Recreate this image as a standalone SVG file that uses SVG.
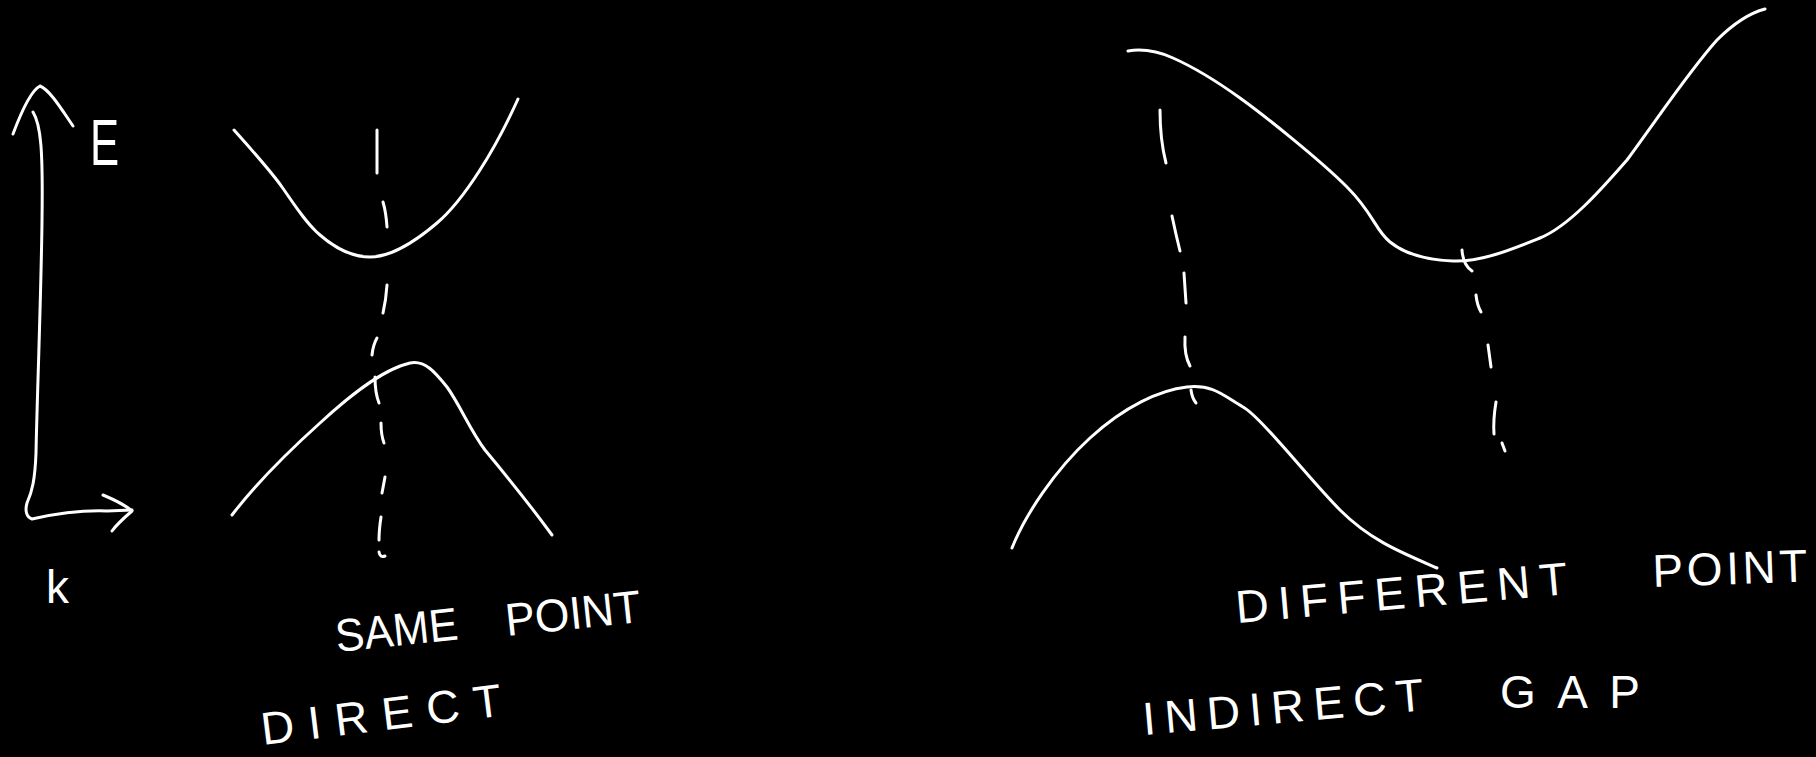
<svg xmlns="http://www.w3.org/2000/svg" width="1816" height="757" viewBox="0 0 1816 757">
<style>
.ln{fill:none;stroke:#ffffff;stroke-width:3;stroke-linecap:round;stroke-linejoin:round}
.tx{fill:#ffffff;font-family:"Liberation Sans",Arial,sans-serif;font-size:46px}
</style>
<rect x="0" y="0" width="1816" height="757" fill="#000000"/>

<g id="axes">
  <path class="ln" d="M13,134 C22,110 32,90 40,86 C50,90 62,110 73,126"/>
  <path class="ln" d="M33,112 C41,125 43,150 42,221 C41,300 37,400 36,453 C35,480 32,492 27,503 C25,510 26,517 32,519 C50,515 80,510 107,511 L132,510"/>
  <path class="ln" d="M103,495 C115,500 125,505 132,511 C125,517 117,524 112,531"/>
  <text class="tx" transform="translate(90,165) scale(0.95,1.42)" font-size="60">E</text>
  <text class="tx" x="46" y="603" font-size="74">k</text>
</g>

<g id="direct-gap">
  <path id="direct-conduction" class="ln" d="M234,130 C250,148 270,170 282,187 S305,222 320,235 S352,257 370,257 S410,246 437,223 S495,150 518,99"/>
  <path id="direct-valence" class="ln" d="M232,515 C255,485 290,450 320,423 C345,400 380,370 410,363 C425,360 435,372 447,387 C460,405 470,430 485,450 C510,480 530,505 552,535"/>
  <text class="tx" x="337" y="652" transform="rotate(-6 337 652)" textLength="123" lengthAdjust="spacingAndGlyphs">SAME</text>
  <text class="tx" x="507" y="636" transform="rotate(-6 507 636)" textLength="136" lengthAdjust="spacingAndGlyphs">POINT</text>
  <text class="tx" x="263" y="745" transform="rotate(-7 263 745)" font-size="48" textLength="242" lengthAdjust="spacing">DIRECT</text>
</g>

<g id="indirect-gap">
  <path id="indirect-conduction" class="ln" d="M1128,51 C1140,49 1155,50 1173,58 S1215,80 1240,98 S1320,160 1347,187 S1375,230 1390,242 S1425,260 1453,261 S1510,250 1540,238 S1605,185 1627,160 C1660,115 1690,70 1717,40 C1735,22 1750,13 1765,9"/>
  <path id="indirect-valence" class="ln" d="M1012,548 C1025,515 1055,470 1090,438 S1160,390 1187,387 S1225,397 1243,407 S1310,480 1340,510 S1400,552 1437,568"/>
  <text class="tx" x="1237" y="623" transform="rotate(-5 1237 623)" textLength="333" lengthAdjust="spacing">DIFFERENT</text>
  <text class="tx" x="1653" y="587" transform="rotate(-2 1653 587)" textLength="155" lengthAdjust="spacing">POINT</text>
  <text class="tx" x="1144" y="735" transform="rotate(-5 1144 735)" textLength="282" lengthAdjust="spacing">INDIRECT</text>
  <text class="tx" x="1500" y="708" textLength="140" lengthAdjust="spacing">GAP</text>
</g>

<g id="connectors">
  <path class="ln" d="M377,130 L377,173"/>
  <path class="ln" d="M383,202 Q386,212 387,227"/>
  <path class="ln" d="M387,285 Q386,300 383,313"/>
  <path class="ln" d="M377,338 Q373,345 372,355"/>
  <path class="ln" d="M375,377 Q375,393 379,403"/>
  <path class="ln" d="M381,423 Q381,435 384,443"/>
  <path class="ln" d="M385,477 L382,493"/>
  <path class="ln" d="M381,517 Q379,530 379,540"/>
  <path class="ln" d="M379,552 Q380,558 385,556"/>

  <path class="ln" d="M1160,110 Q1160,140 1166,163"/>
  <path class="ln" d="M1172,216 Q1176,235 1180,251"/>
  <path class="ln" d="M1184,273 L1186,303"/>
  <path class="ln" d="M1185,337 Q1184,355 1190,366"/>
  <path class="ln" d="M1191,390 Q1192,398 1196,403"/>

  <path class="ln" d="M1462,250 Q1463,265 1472,271"/>
  <path class="ln" d="M1476,295 Q1477,305 1481,312"/>
  <path class="ln" d="M1488,345 L1491,367"/>
  <path class="ln" d="M1496,402 Q1493,420 1494,434"/>
  <path class="ln" d="M1502,443 L1505,451"/>
</g>
</svg>
